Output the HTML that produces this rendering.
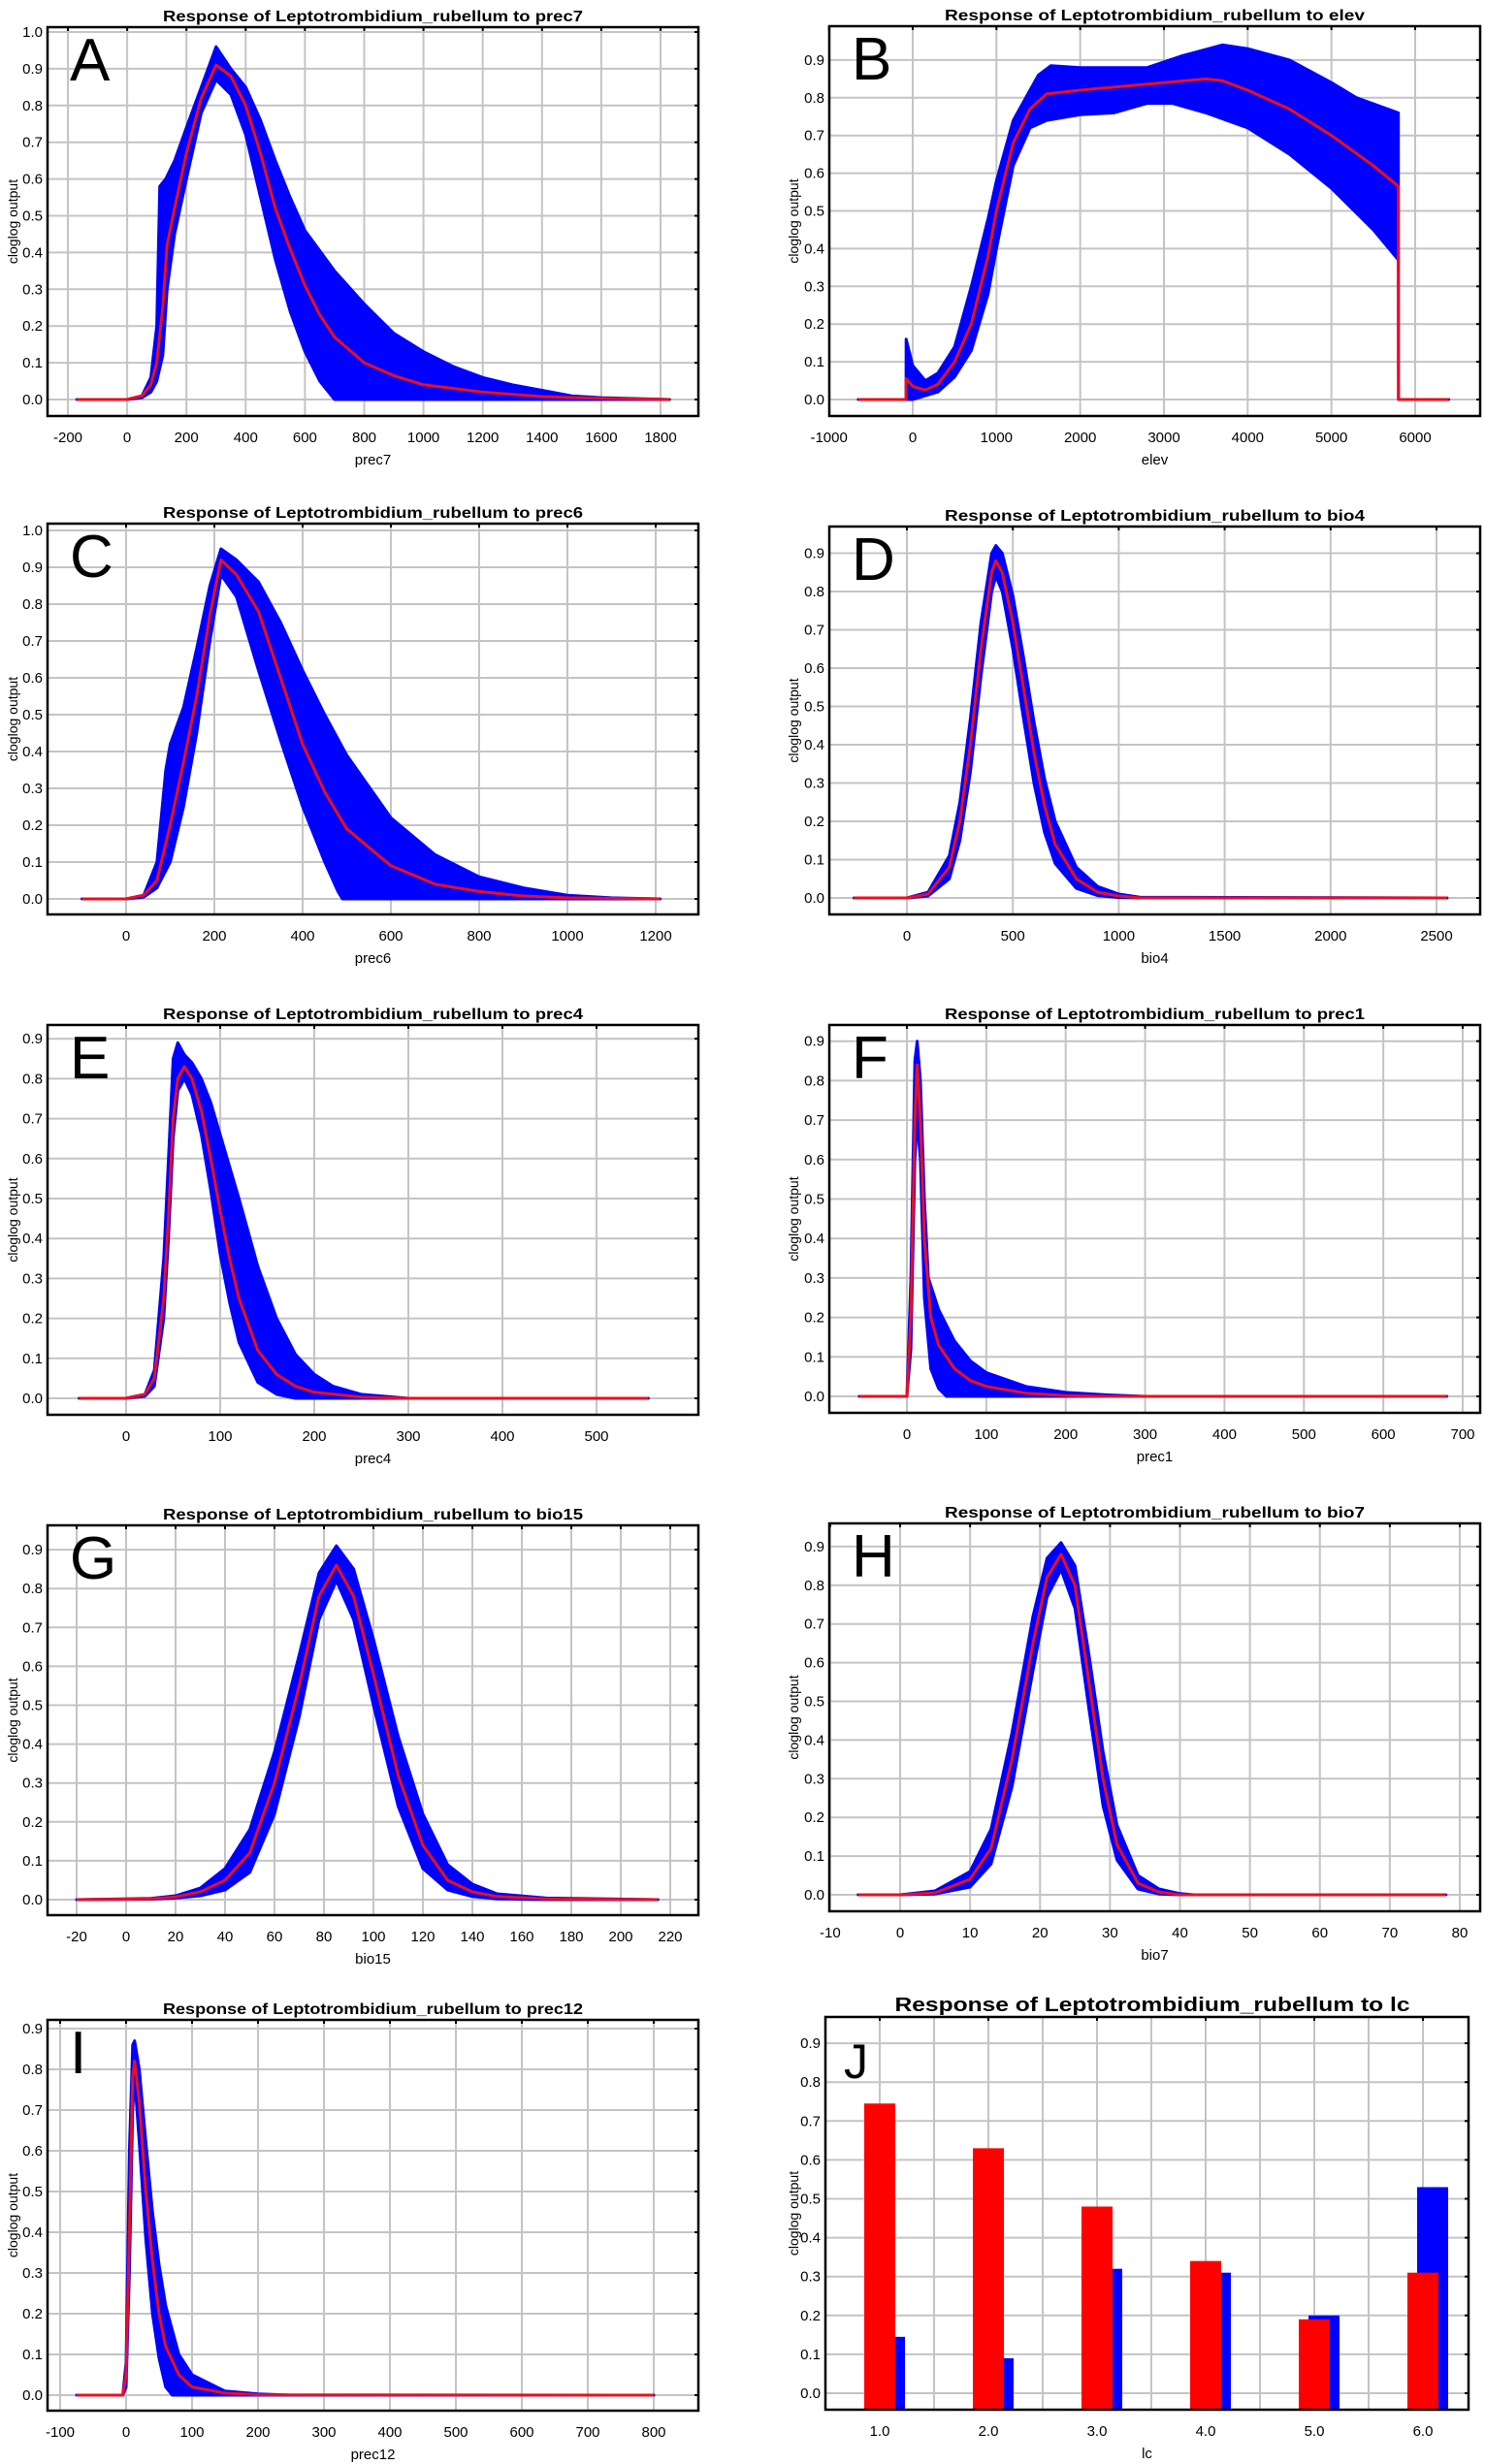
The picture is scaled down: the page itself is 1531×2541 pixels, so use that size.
<!DOCTYPE html>
<html><head><meta charset="utf-8">
<style>
html,body{margin:0;padding:0;background:#fff;}
svg{display:block;}
text{font-family:"Liberation Sans",Arial,sans-serif;fill:#000;}
</style></head>
<body>
<svg id="fig" width="1531" height="2541" viewBox="0 0 1531 2541" xmlns="http://www.w3.org/2000/svg"></svg>
<script>
// ---------- Panel A: prec7 ----------
const aX    = [-170,0,50,80,100,120,135,160,200,250,300,350,400,450,500,550,600,650,700,800,900,1000,1200,1400,1600,1830];
const aMean = [0,0,0.01,0.04,0.1,0.25,0.42,0.52,0.67,0.82,0.91,0.88,0.80,0.67,0.52,0.41,0.31,0.23,0.17,0.10,0.065,0.04,0.02,0.008,0.003,0];
const aUpX  = [-170,0,50,80,100,110,130,160,200,250,300,350,400,450,500,550,600,700,800,900,1000,1100,1200,1300,1400,1500,1600,1830];
const aUp   = [0,0,0.01,0.06,0.2,0.58,0.6,0.65,0.74,0.85,0.96,0.9,0.85,0.76,0.65,0.55,0.46,0.35,0.26,0.18,0.13,0.09,0.06,0.04,0.025,0.01,0.005,0];
const aLoX  = [-170,0,50,80,100,120,135,160,200,250,300,350,400,450,500,550,600,650,700,1830];
const aLo   = [0,0,0.005,0.02,0.05,0.12,0.3,0.45,0.6,0.78,0.87,0.83,0.72,0.55,0.38,0.24,0.13,0.05,0,0];
// ---------- Panel B: elev ----------
const bX    = [-650,-80,-79,0,150,300,500,700,900,1000,1200,1400,1600,2000,2500,3000,3500,3700,4000,4500,5000,5500,5800,5801,6400];
const bMean = [0,0,0.055,0.035,0.025,0.04,0.1,0.2,0.38,0.5,0.68,0.77,0.81,0.82,0.83,0.84,0.85,0.845,0.82,0.77,0.7,0.62,0.565,0,0];
const bUpX  = [-650,-80,-79,0,150,300,500,700,900,1000,1200,1400,1500,1650,2000,2500,2800,3200,3700,4000,4500,5000,5300,5800,5801,6400];
const bUp   = [0,0,0.16,0.09,0.05,0.07,0.14,0.3,0.48,0.58,0.74,0.82,0.86,0.885,0.88,0.88,0.88,0.91,0.94,0.93,0.9,0.84,0.8,0.76,0,0];
const bLoX  = [-650,-80,-79,0,150,300,500,700,900,1000,1200,1400,1600,2000,2400,2800,3100,3500,4000,4500,5000,5500,5800,5801,6400];
const bLo   = [0,0,0,0,0.01,0.02,0.06,0.13,0.28,0.4,0.62,0.72,0.74,0.755,0.76,0.785,0.785,0.76,0.72,0.65,0.56,0.45,0.37,0,0];
// ---------- Panel C: prec6 ----------
const cX    = [-100,0,40,70,100,130,160,190,215,250,300,350,400,450,500,600,700,800,900,1000,1210];
const cMean = [0,0,0.01,0.05,0.2,0.37,0.55,0.77,0.92,0.88,0.78,0.6,0.42,0.29,0.19,0.09,0.04,0.02,0.008,0.003,0];
const cUpX  = [-100,0,40,70,90,100,130,160,190,215,250,300,350,400,450,500,600,700,800,900,1000,1100,1210];
const cUp   = [0,0,0.01,0.1,0.35,0.42,0.52,0.68,0.85,0.95,0.92,0.86,0.75,0.62,0.5,0.39,0.22,0.12,0.06,0.03,0.01,0.003,0];
const cLoX  = [-100,0,40,70,100,130,160,190,215,250,300,350,400,450,480,490,1210];
const cLo   = [0,0,0.005,0.03,0.1,0.25,0.45,0.7,0.88,0.82,0.62,0.43,0.25,0.1,0.02,0,0];
// ---------- Panel D: bio4 ----------
const dX    = [-250,0,100,200,250,300,350,400,420,450,500,550,600,650,700,800,900,1000,1100,2550];
const dMean = [0,0,0.01,0.08,0.2,0.4,0.65,0.85,0.88,0.85,0.72,0.55,0.38,0.24,0.14,0.05,0.015,0.005,0,0];
const dUp   = [0,0,0.015,0.11,0.25,0.47,0.72,0.9,0.92,0.9,0.79,0.63,0.46,0.31,0.2,0.08,0.03,0.01,0.002,0];
const dLo   = [0,0,0.005,0.05,0.15,0.33,0.58,0.8,0.84,0.8,0.65,0.47,0.3,0.17,0.09,0.025,0.006,0.001,0,0];
// ---------- Panel E: prec4 ----------
const eX    = [-50,0,20,30,40,45,50,55,62,70,80,90,100,110,120,140,160,180,200,250,300,555];
const eMean = [0,0,0.01,0.05,0.25,0.45,0.7,0.8,0.83,0.8,0.72,0.6,0.47,0.35,0.25,0.12,0.06,0.03,0.015,0.003,0,0];
const eUpX  = [-50,0,20,30,40,45,50,55,62,70,80,90,100,110,120,140,160,180,200,220,250,300,555];
const eUp   = [0,0,0.01,0.07,0.35,0.6,0.85,0.89,0.86,0.84,0.8,0.74,0.66,0.58,0.5,0.33,0.2,0.11,0.06,0.03,0.01,0,0];
const eLoX  = [-50,0,20,30,40,45,50,55,62,70,80,90,100,110,120,140,160,180,555];
const eLo   = [0,0,0.005,0.03,0.2,0.4,0.65,0.77,0.8,0.76,0.66,0.52,0.36,0.24,0.14,0.04,0.01,0,0];
// ---------- Panel F: prec1 ----------
const fX    = [-60,0,5,10,13,17,22,30,40,60,80,100,150,200,250,680];
const fMean = [0,0,0.2,0.7,0.84,0.7,0.4,0.2,0.13,0.07,0.04,0.025,0.008,0.002,0,0];
const fUpX  = [-60,0,5,10,13,17,22,27,40,60,80,100,150,200,250,300,680];
const fUp   = [0,0,0.3,0.85,0.9,0.8,0.5,0.3,0.22,0.14,0.09,0.06,0.025,0.01,0.004,0,0];
const fLoX  = [-60,0,5,10,13,17,22,30,40,50,680];
const fLo   = [0,0,0.12,0.6,0.7,0.6,0.25,0.07,0.02,0,0];
// ---------- Panel G: bio15 ----------
const gX    = [-20,10,20,30,40,50,60,70,78,85,92,100,110,120,130,140,150,170,215];
const gMean = [0,0.002,0.007,0.02,0.05,0.12,0.3,0.55,0.78,0.86,0.78,0.58,0.32,0.14,0.05,0.02,0.008,0.002,0];
const gUp   = [0,0.003,0.01,0.03,0.08,0.18,0.38,0.63,0.84,0.91,0.85,0.67,0.42,0.22,0.09,0.04,0.015,0.004,0];
const gLo   = [0,0.001,0.004,0.01,0.025,0.07,0.22,0.47,0.72,0.82,0.72,0.5,0.24,0.08,0.025,0.008,0.002,0,0];
// ---------- Panel H: bio7 ----------
const hX    = [-6,0,5,10,13,16,19,21,23,25,27,29,31,34,37,40,42,78];
const hMean = [0,0,0.005,0.04,0.12,0.35,0.65,0.82,0.88,0.8,0.55,0.3,0.13,0.03,0.007,0,0,0];
const hUp   = [0,0,0.01,0.06,0.17,0.42,0.72,0.87,0.91,0.85,0.62,0.37,0.18,0.05,0.015,0.003,0,0];
const hLo   = [0,0,0.002,0.02,0.08,0.28,0.58,0.77,0.84,0.74,0.48,0.23,0.09,0.015,0.002,0,0,0];
// ---------- Panel I: prec12 ----------
const iX    = [-75,-5,0,5,10,13,20,30,40,50,60,80,100,150,200,800];
const iMean = [0,0,0.05,0.4,0.78,0.82,0.72,0.5,0.33,0.2,0.12,0.05,0.02,0.005,0.001,0];
const iUpX  = [-75,-5,0,5,10,13,20,30,40,50,60,80,100,150,200,250,800];
const iUp   = [0,0,0.08,0.6,0.86,0.87,0.8,0.62,0.45,0.32,0.22,0.1,0.05,0.01,0.003,0,0];
const iLoX  = [-75,-5,0,5,10,13,20,30,40,50,60,70,800];
const iLo   = [0,0,0.02,0.3,0.7,0.78,0.62,0.38,0.2,0.09,0.02,0,0];
// ---------- Panel J: lc (bars) ----------
const jCategories = [1,2,3,4,5,6];
const jCategoryLabels = ["1.0","2.0","3.0","4.0","5.0","6.0"];
const jRed  = [0.745,0.63,0.48,0.34,0.19,0.31];
const jBlue = [0.145,0.09,0.32,0.31,0.2,0.53];
// ---------- tick label arrays ----------
const ticksA = [-200,0,200,400,600,800,1000,1200,1400,1600,1800];
const ticksB = [-1000,0,1000,2000,3000,4000,5000,6000];
const ticksC = [0,200,400,600,800,1000,1200];
const ticksD = [0,500,1000,1500,2000,2500];
const ticksE = [0,100,200,300,400,500];
const ticksF = [0,100,200,300,400,500,600,700];
const ticksG = [-20,0,20,40,60,80,100,120,140,160,180,200,220];
const ticksH = [-10,0,10,20,30,40,50,60,70,80];
const ticksI = [-100,0,100,200,300,400,500,600,700,800];
const yTicks10 = [0,0.1,0.2,0.3,0.4,0.5,0.6,0.7,0.8,0.9,1.0];
const yTicks9  = [0,0.1,0.2,0.3,0.4,0.5,0.6,0.7,0.8,0.9];

const NS = "http://www.w3.org/2000/svg";
const svg = document.getElementById('fig');
function mk(tag, parent){ const e=document.createElementNS(NS,tag); parent.appendChild(e); return e; }

const panels = [
 {id:'a',letter:'A',v:'prec7',fx0:49,fx1:720,top:28,bot:429,zero:412,unit:379,p0:[-200,70],p1:[1800,681],ticks:ticksA,yt:yTicks10,col:0,
  x:aX,mean:aMean,upX:aUpX,up:aUp,loX:aLoX,lo:aLo},
 {id:'b',letter:'B',v:'elev',fx0:855,fx1:1526,top:27,bot:429,zero:412,unit:389,p0:[0,941],p1:[6000,1459],ticks:ticksB,yt:yTicks9,col:1,
  x:bX,mean:bMean,upX:bUpX,up:bUp,loX:bLoX,lo:bLo},
 {id:'c',letter:'C',v:'prec6',fx0:49,fx1:720,top:540,bot:943,zero:927,unit:380,p0:[0,130],p1:[1200,676],ticks:ticksC,yt:yTicks10,col:0,
  x:cX,mean:cMean,upX:cUpX,up:cUp,loX:cLoX,lo:cLo},
 {id:'d',letter:'D',v:'bio4',fx0:855,fx1:1526,top:543,bot:943,zero:926,unit:395,p0:[0,935],p1:[2500,1481],ticks:ticksD,yt:yTicks9,col:1,
  x:dX,mean:dMean,upX:dX,up:dUp,loX:dX,lo:dLo},
 {id:'e',letter:'E',v:'prec4',fx0:49,fx1:720,top:1057,bot:1459,zero:1442,unit:412,p0:[0,130],p1:[500,615],ticks:ticksE,yt:yTicks9,col:0,
  x:eX,mean:eMean,upX:eUpX,up:eUp,loX:eLoX,lo:eLo},
 {id:'f',letter:'F',v:'prec1',fx0:855,fx1:1526,top:1057,bot:1457,zero:1440,unit:407,p0:[0,935],p1:[700,1508],ticks:ticksF,yt:yTicks9,col:1,
  x:fX,mean:fMean,upX:fUpX,up:fUp,loX:fLoX,lo:fLo},
 {id:'g',letter:'G',v:'bio15',fx0:49,fx1:720,top:1573,bot:1975,zero:1959,unit:401,p0:[0,130],p1:[220,691],ticks:ticksG,yt:yTicks9,col:0,
  x:gX,mean:gMean,upX:gX,up:gUp,loX:gX,lo:gLo},
 {id:'h',letter:'H',v:'bio7',fx0:855,fx1:1526,top:1571,bot:1971,zero:1954,unit:399,p0:[0,928],p1:[80,1505],ticks:ticksH,yt:yTicks9,col:1,
  x:hX,mean:hMean,upX:hX,up:hUp,loX:hX,lo:hLo},
 {id:'i',letter:'I',v:'prec12',fx0:49,fx1:720,top:2083,bot:2486,zero:2470,unit:420,p0:[0,130],p1:[800,674],ticks:ticksI,yt:yTicks9,col:0,
  x:iX,mean:iMean,upX:iUpX,up:iUp,loX:iLoX,lo:iLo}
];

function frameAndAxes(g, P, sx, sy, titleCx, titleW, titleSize){
  // grid
  P.yt.forEach(t=>{
    const y=sy(t);
    const l=mk('line',g);
    
    
    l.setAttribute('x1',P.fx0);l.setAttribute('x2',P.fx1);l.setAttribute('y1',y);l.setAttribute('y2',y);
    l.setAttribute('stroke','#c4c4c4');l.setAttribute('stroke-width','2');
    const tx=mk('text',g);
    
    
    tx.setAttribute('x',P.fx0-5);tx.setAttribute('y',y+5);tx.setAttribute('text-anchor','end');tx.setAttribute('font-size','15');
    tx.textContent=t.toFixed(1);
    const tk=mk('line',g);
    
    
    tk.setAttribute('x1',P.fx1-4);tk.setAttribute('x2',P.fx1);tk.setAttribute('y1',y);tk.setAttribute('y2',y);tk.setAttribute('stroke','#000');tk.setAttribute('stroke-width','2');
  });
  P.xgrid.forEach(v=>{
    const x=sx(v);
    const l=mk('line',g);
    
    
    l.setAttribute('x1',x);l.setAttribute('x2',x);l.setAttribute('y1',P.top);l.setAttribute('y2',P.bot);
    l.setAttribute('stroke','#c4c4c4');l.setAttribute('stroke-width','2');
  });
  P.ticks.forEach((v,k)=>{
    const x=sx(v);
    const tk=mk('line',g);
    
    
    tk.setAttribute('x1',x);tk.setAttribute('x2',x);tk.setAttribute('y1',P.top);tk.setAttribute('y2',P.top+4);tk.setAttribute('stroke','#000');tk.setAttribute('stroke-width','2');
    const tx=mk('text',g);
    
    
    tx.setAttribute('x',x);tx.setAttribute('y',P.bot+27);tx.setAttribute('text-anchor','middle');tx.setAttribute('font-size','15');
    tx.textContent=P.tickLabels?P.tickLabels[k]:String(v);
  });
  const t=mk('text',g);
  
  
  t.setAttribute('x',titleCx);t.setAttribute('y',P.top-6);t.setAttribute('text-anchor','middle');
  t.setAttribute('font-size',titleSize);t.setAttribute('font-weight','bold');
  t.setAttribute('textLength',titleW);t.setAttribute('lengthAdjust','spacingAndGlyphs');
  t.textContent='Response of Leptotrombidium_rubellum to '+P.v;
  const xl=mk('text',g);
  
  
  xl.setAttribute('x',(P.fx0+P.fx1)/2);xl.setAttribute('y',P.bot+50);xl.setAttribute('text-anchor','middle');xl.setAttribute('font-size','15');
  xl.textContent=P.v;
  const yx=P.col===0?18:823, yc=(P.top+P.bot)/2;
  const yl=mk('text',g);
  
  
  yl.setAttribute('x',yx);yl.setAttribute('y',yc);yl.setAttribute('text-anchor','middle');yl.setAttribute('font-size','14');
  yl.setAttribute('transform','rotate(-90 '+yx+' '+yc+')');
  yl.textContent='cloglog output';
}
function drawFrame(g,P){
  const r=mk('rect',g);
  
  
  r.setAttribute('x',P.fx0);r.setAttribute('y',P.top);r.setAttribute('width',P.fx1-P.fx0);r.setAttribute('height',P.bot-P.top);
  r.setAttribute('fill','none');r.setAttribute('stroke','#000');r.setAttribute('stroke-width','2.5');
}
function drawLetter(g,P,size){
  const L=mk('text',g);
  
  
  L.setAttribute('x',P.fx0+23);L.setAttribute('y',P.top+55);L.setAttribute('font-size',size);
  L.textContent=P.letter;
}

panels.forEach(P=>{
  const g=mk('g',svg);
  
  
  const k=(P.p1[1]-P.p0[1])/(P.p1[0]-P.p0[0]);
  const sx=v=>P.p0[1]+(v-P.p0[0])*k;
  const sy=v=>P.zero-v*P.unit;
  P.xgrid=P.ticks;
  const cx=(P.fx0+P.fx1)/2;
  frameAndAxes(g,P,sx,sy,cx,433,16);
  // band
  let pts=[];
  for(let i=0;i<P.upX.length;i++) pts.push(sx(P.upX[i]).toFixed(1)+','+sy(P.up[i]).toFixed(1));
  for(let i=P.loX.length-1;i>=0;i--) pts.push(sx(P.loX[i]).toFixed(1)+','+sy(P.lo[i]).toFixed(1));
  const band=mk('polygon',g);
  
  
  band.setAttribute('points',pts.join(' '));
  band.setAttribute('fill','#0000ff');band.setAttribute('stroke','#0000ff');band.setAttribute('stroke-width','3');band.setAttribute('stroke-linejoin','round');
  const mp=P.x.map((v,i)=>sx(v).toFixed(1)+','+sy(P.mean[i]).toFixed(1)).join(' ');
  const line=mk('polyline',g);
  
  
  line.setAttribute('points',mp);
  line.setAttribute('fill','none');line.setAttribute('stroke','#e8101e');line.setAttribute('stroke-width','3');line.setAttribute('stroke-linejoin','round');
  drawFrame(g,P);
  drawLetter(g,P,62);
});

// ---------- Panel J ----------
(function(){
  const P={letter:'J',v:'lc',fx0:851,fx1:1514,top:2080,bot:2485,zero:2468,unit:401,col:1,yt:yTicks9,
           ticks:jCategories,tickLabels:jCategoryLabels,xgrid:[0.5,1,1.5,2,2.5,3,3.5,4,4.5,5,5.5,6]};
  const g=mk('g',svg);
  
  
  const sx=v=>907+(v-1)*112;
  const sy=v=>P.zero-v*P.unit;
  frameAndAxes(g,P,sx,sy,1188,531,20);
  const bw=32;
  jCategories.forEach((c,i)=>{
    const x=sx(c);
    const b=mk('rect',g);
    
    
    b.setAttribute('x',x-bw/2+10);b.setAttribute('y',sy(jBlue[i]));b.setAttribute('width',bw);b.setAttribute('height',P.bot-sy(jBlue[i]));
    b.setAttribute('fill','#0000ff');
    const r=mk('rect',g);
    
    
    r.setAttribute('x',x-bw/2);r.setAttribute('y',sy(jRed[i]));r.setAttribute('width',bw);r.setAttribute('height',P.bot-sy(jRed[i]));
    r.setAttribute('fill','#ff0000');
  });
  drawFrame(g,P);
  const L=mk('text',g);
  
  
  L.setAttribute('x',870);L.setAttribute('y',2143);L.setAttribute('font-size','50');
  L.textContent='J';
})();
</script>
</body></html>
